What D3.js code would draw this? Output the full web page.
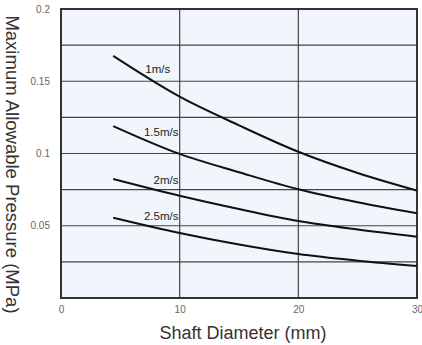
<!DOCTYPE html>
<html><head><meta charset="utf-8">
<script src="https://cdn.jsdelivr.net/npm/d3@7"></script>
<style>body{margin:0;background:#fff}svg{display:block}</style>
</head><body>
<svg id="c" width="422" height="345"></svg>
<script>
const diameters = [4.4, 10, 15, 20, 25, 30];
const v1 = [0.1675, 0.1393, 0.1195, 0.1012, 0.0865, 0.0743];
const v15 = [0.1190, 0.0997, 0.0870, 0.0752, 0.0662, 0.0586];
const v2 = [0.0824, 0.0708, 0.0616, 0.0533, 0.0474, 0.0424];
const v25 = [0.0556, 0.0450, 0.0370, 0.0304, 0.0258, 0.0221];
const seriesNames = ["1m/s", "1.5m/s", "2m/s", "2.5m/s"];
const labelAtD = [9.2, 9.9, 9.9, 9.9];
const labelAtV = [0.156, 0.112, 0.079, 0.054];
const xTicks = [0, 10, 20, 30];
const yTicks = [0, 0.05, 0.1, 0.15, 0.2];
const yGrid = [0.025, 0.05, 0.075, 0.1, 0.125, 0.15, 0.175];

const series = [v1, v15, v2, v25].map((vals, i) => ({name: seriesNames[i], ld: labelAtD[i], lv: labelAtV[i], pts: vals.map((v, j) => [diameters[j], v])}));

const svg = d3.select("#c");
const L = 61, R = 417, T = 9, B = 298;
const x = d3.scaleLinear().domain([0, 30]).range([L, R]);
const y = d3.scaleLinear().domain([0, 0.2]).range([B, T]);
const font = "Liberation Sans, Arial, sans-serif";

svg.append("rect").attr("x", L).attr("y", T).attr("width", R - L).attr("height", B - T).attr("fill", "#f0f6fb");

const g = svg.append("g");
g.selectAll("line.h").data(yGrid).join("line")
  .attr("x1", L).attr("x2", R).attr("y1", d => y(d)).attr("y2", d => y(d))
  .attr("stroke", "#444").attr("stroke-width", 1.2);
g.selectAll("line.v").data([10, 20]).join("line")
  .attr("y1", T).attr("y2", B).attr("x1", d => x(d)).attr("x2", d => x(d))
  .attr("stroke", "#444").attr("stroke-width", 1.2);

svg.append("rect").attr("x", L).attr("y", T).attr("width", R - L).attr("height", B - T)
  .attr("fill", "none").attr("stroke", "#333").attr("stroke-width", 2);

const line = d3.line().x(d => x(d[0])).y(d => y(d[1])).curve(d3.curveMonotoneX);
svg.selectAll("path.s").data(series).join("path")
  .attr("d", d => line(d.pts)).attr("fill", "none").attr("stroke", "#111").attr("stroke-width", 2);

svg.selectAll("text.lab").data(series).join("text")
  .attr("x", d => x(d.ld)).attr("y", d => y(d.lv))
  .attr("text-anchor", "end").attr("font-family", font)
  .attr("font-size", 11.5).attr("fill", "#222").text(d => d.name);

const xAxis = d3.axisBottom(x).tickValues(xTicks).tickSize(0).tickPadding(8).tickFormat(d3.format("d"));
const xa = svg.append("g").attr("transform", `translate(0,${B})`).call(xAxis);
xa.select(".domain").remove();
xa.selectAll("text").attr("font-family", font).attr("font-size", 10).attr("fill", "#666");

const yAxis = d3.axisLeft(y).tickValues(yTicks).tickSize(0).tickPadding(11).tickFormat(d => d === 0 ? "" : String(d));
const ya = svg.append("g").attr("transform", `translate(${L},0)`).call(yAxis);
ya.select(".domain").remove();
ya.selectAll("text").attr("font-family", font).attr("font-size", 10).attr("fill", "#666");

svg.append("text").attr("x", 243).attr("y", 339).attr("text-anchor", "middle")
  .attr("font-family", font).attr("font-size", 18).attr("fill", "#333")
  .text("Shaft Diameter (mm)");
svg.append("text").attr("transform", "translate(6,164.5) rotate(90)").attr("text-anchor", "middle")
  .attr("font-family", font).attr("font-size", 18.5).attr("fill", "#333")
  .text("Maximum Allowable Pressure (MPa)");
</script>
</body></html>
